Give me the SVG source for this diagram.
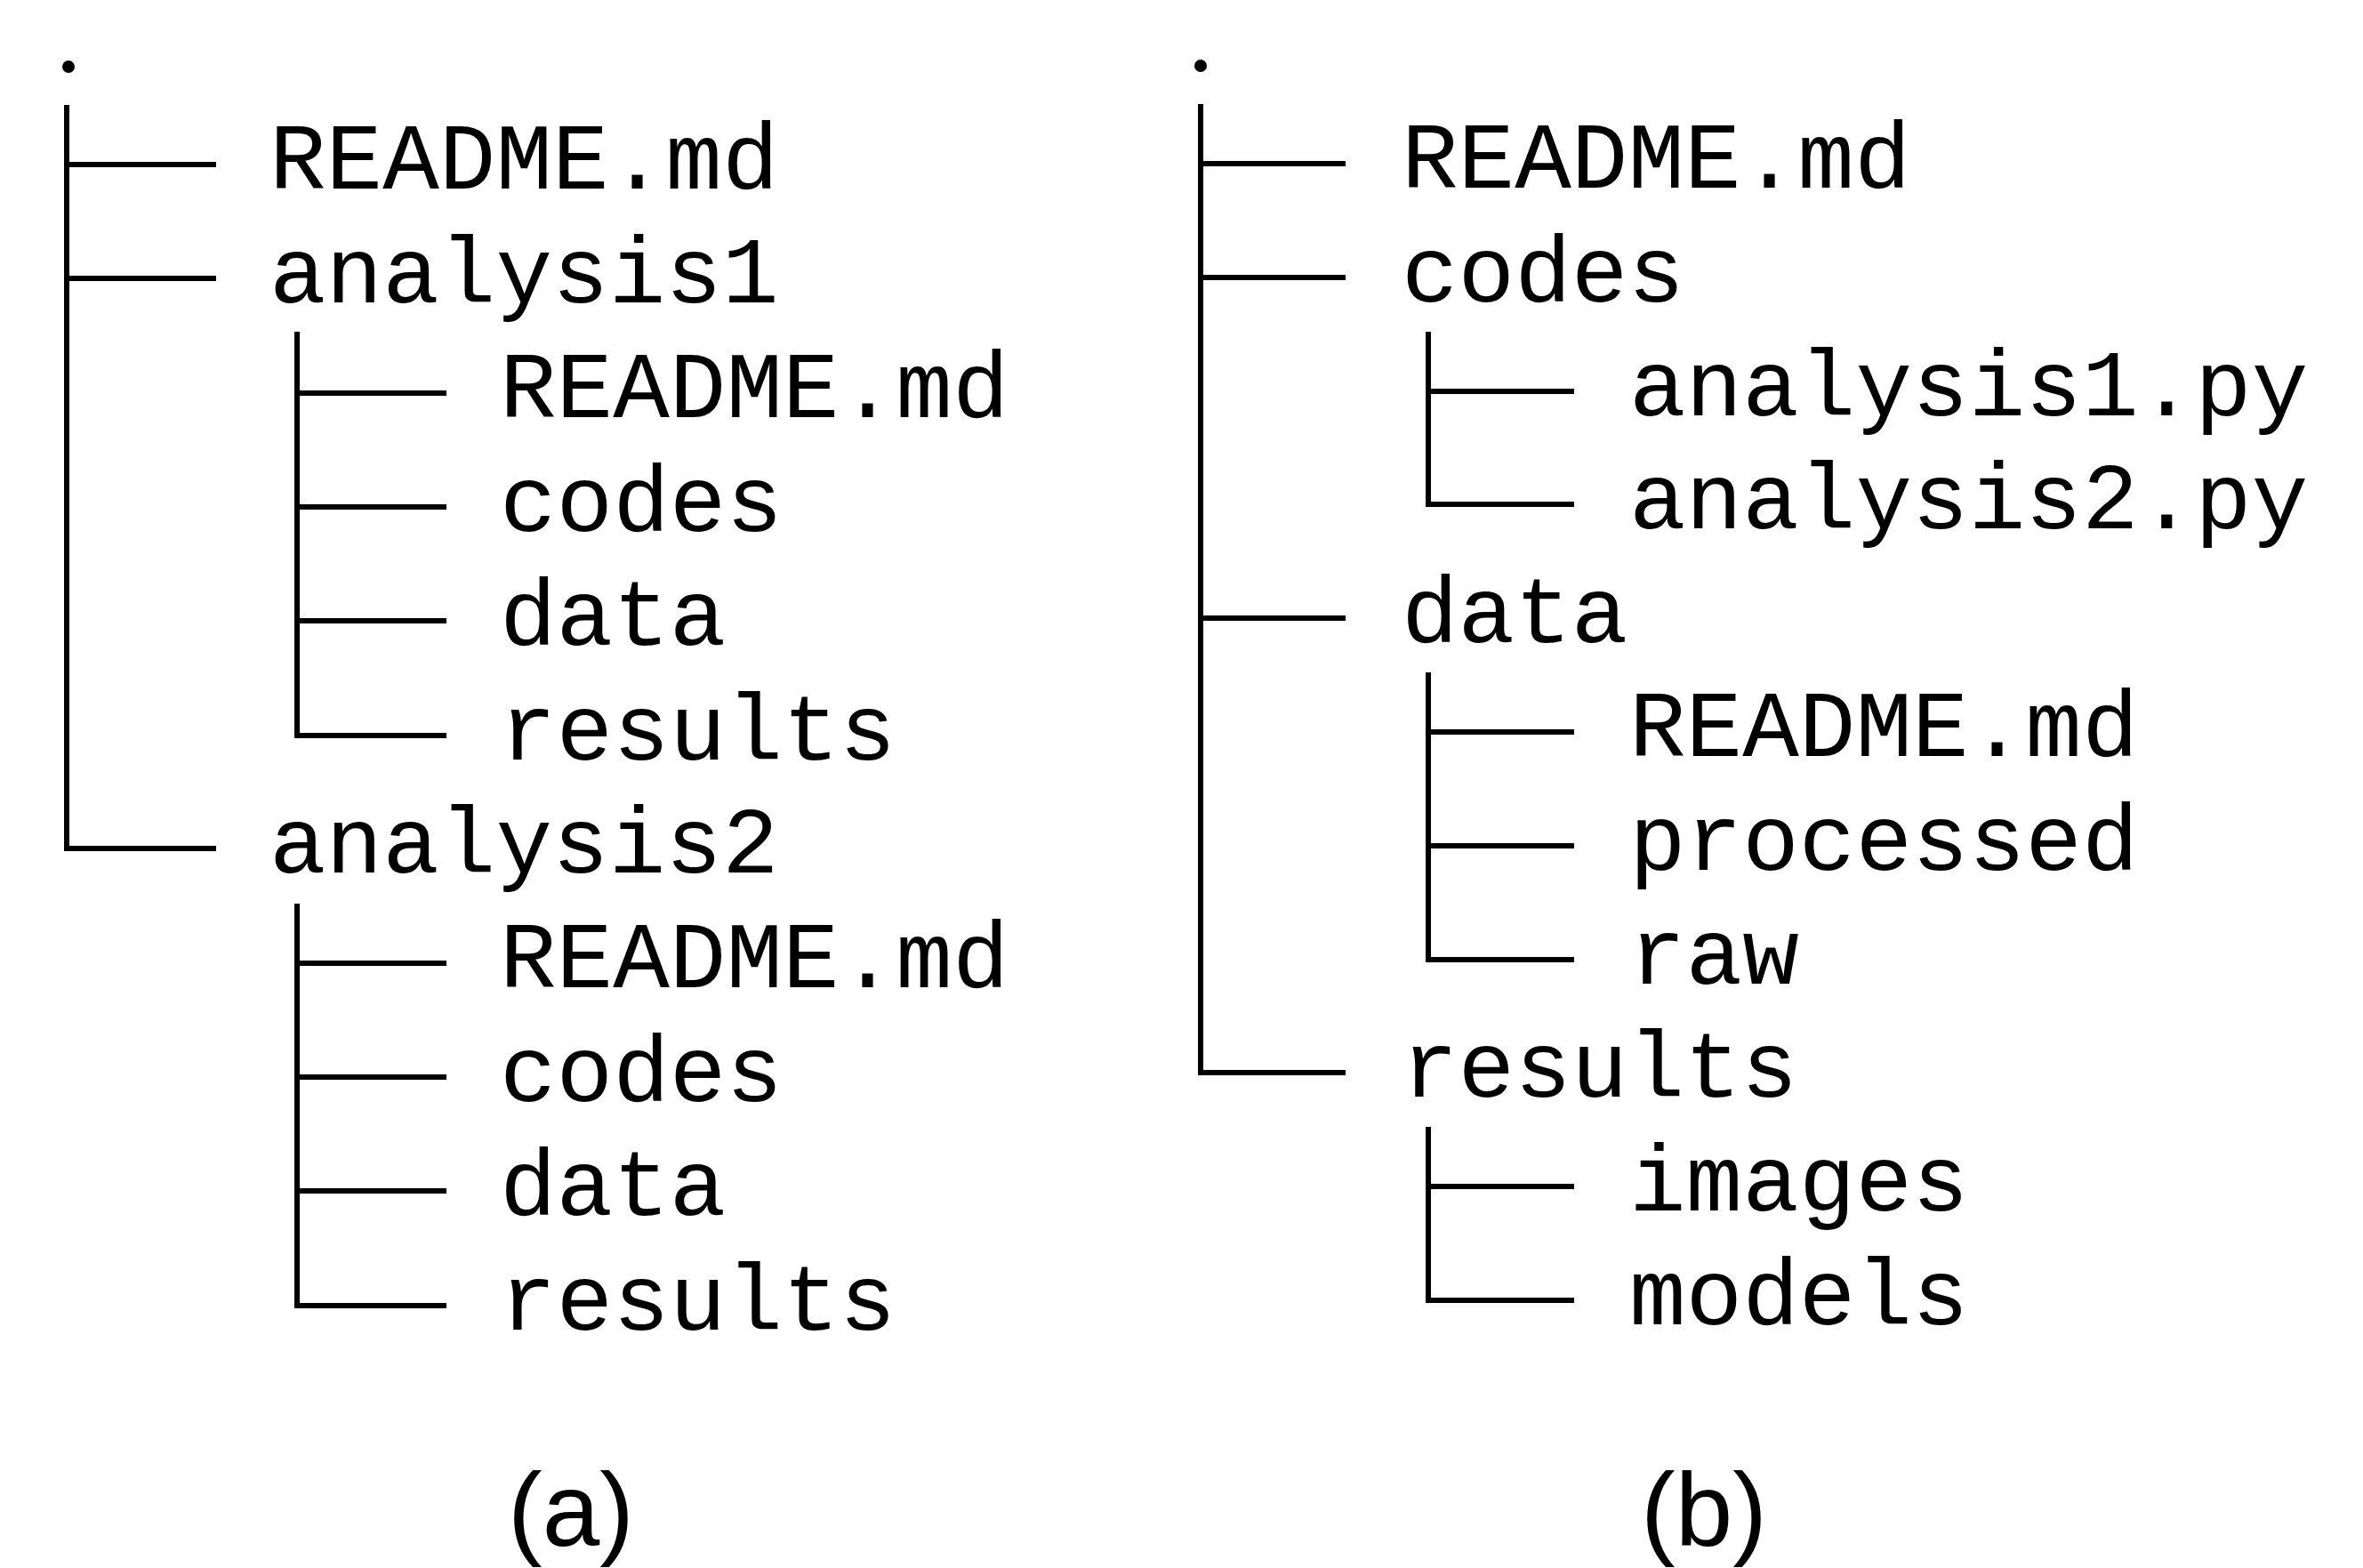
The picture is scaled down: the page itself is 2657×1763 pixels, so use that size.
<svg xmlns="http://www.w3.org/2000/svg" width="2657" height="1763" viewBox="0 0 2657 1763">
<style>
.t{font-family:"Liberation Mono","DejaVu Sans Mono",monospace;font-size:106px;fill:#000}
.c{stroke:#000;stroke-width:6;fill:none;stroke-linecap:butt}
.cap{font-family:"Liberation Sans",Arial,sans-serif;font-size:116px;fill:#000;text-anchor:middle}
</style>
<rect width="2657" height="1763" fill="#fff"/>
<g id="connectors">
  <!-- tree (a) -->
  <circle cx="77" cy="75" r="7" fill="#000"/>
  <path class="c" d="M75 118 V954 H243 M75 185 H243 M75 313 H243"/>
  <path class="c" d="M334 373 V827 H502 M334 442 H502 M334 570 H502 M334 698 H502"/>
  <path class="c" d="M334 1016 V1468 H502 M334 1083 H502 M334 1211 H502 M334 1339 H502"/>
  <!-- tree (b) -->
  <circle cx="1350" cy="74" r="7" fill="#000"/>
  <path class="c" d="M1350 117 V1206 H1513 M1350 184 H1513 M1350 312 H1513 M1350 695 H1513"/>
  <path class="c" d="M1606 373 V567 H1770 M1606 440 H1770"/>
  <path class="c" d="M1606 756 V1079 H1770 M1606 823 H1770 M1606 951 H1770"/>
  <path class="c" d="M1606 1267 V1462 H1770 M1606 1334 H1770"/>
</g>
<g id="tree-a">
  <g id="a-readme"><text class="t" x="303" y="212">README.md</text></g>
  <g id="a-analysis1"><text class="t" x="303" y="340">analysis1</text></g>
  <g id="a1-readme"><text class="t" x="562" y="469">README.md</text></g>
  <g id="a1-codes"><text class="t" x="562" y="597">codes</text></g>
  <g id="a1-data"><text class="t" x="562" y="725">data</text></g>
  <g id="a1-results"><text class="t" x="562" y="854">results</text></g>
  <g id="a-analysis2"><text class="t" x="303" y="981">analysis2</text></g>
  <g id="a2-readme"><text class="t" x="562" y="1110">README.md</text></g>
  <g id="a2-codes"><text class="t" x="562" y="1238">codes</text></g>
  <g id="a2-data"><text class="t" x="562" y="1366">data</text></g>
  <g id="a2-results"><text class="t" x="562" y="1495">results</text></g>
</g>
<g id="tree-b">
  <g id="b-readme"><text class="t" x="1576" y="211">README.md</text></g>
  <g id="b-codes"><text class="t" x="1576" y="339">codes</text></g>
  <g id="b-analysis1py"><text class="t" x="1832" y="467">analysis1.py</text></g>
  <g id="b-analysis2py"><text class="t" x="1832" y="594">analysis2.py</text></g>
  <g id="b-data"><text class="t" x="1576" y="722">data</text></g>
  <g id="b-data-readme"><text class="t" x="1832" y="850">README.md</text></g>
  <g id="b-processed"><text class="t" x="1832" y="978">processed</text></g>
  <g id="b-raw"><text class="t" x="1832" y="1106">raw</text></g>
  <g id="b-results"><text class="t" x="1576" y="1233">results</text></g>
  <g id="b-images"><text class="t" x="1832" y="1361">images</text></g>
  <g id="b-models"><text class="t" x="1832" y="1489">models</text></g>
</g>
<g id="captions">
  <text class="cap" x="642" y="1738">(a)</text>
  <text class="cap" x="1916" y="1738">(b)</text>
</g>
</svg>
